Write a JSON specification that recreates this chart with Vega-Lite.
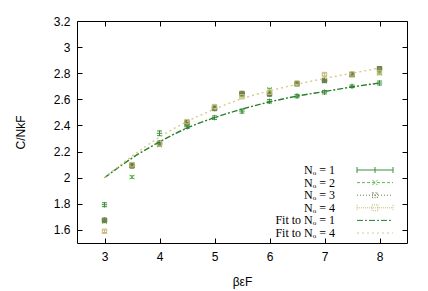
{
  "$schema": "https://vega.github.io/schema/vega-lite/v6.json",
  "autosize": "none",
  "width": 330,
  "height": 222,
  "padding": {"left": 77, "top": 21, "right": 21, "bottom": 48},
  "background": "white",
  "config": {
    "font": "Liberation Sans",
    "view": {"stroke": "black", "strokeWidth": 1},
    "axis": {"grid": false, "domain": false, "tickColor": "black", "labelColor": "black", "labelFont": "Liberation Sans", "labelFontSize": 12, "titleFont": "Liberation Sans", "titleFontSize": 12, "titleFontWeight": "normal", "titleColor": "black"},
    "legend": {"title": null, "orient": "none", "legendX": 292, "legendY": 143, "labelAlign": "right", "labelOffset": -46, "labelFont": "Liberation Serif", "labelFontSize": 12, "labelColor": "black", "labelLimit": 300, "symbolSize": 100, "symbolStrokeWidth": 1, "rowPadding": 0.6, "padding": 0}
  },
  "datasets": {
    "pts": [
      {"series": "Nₒ = 1", "x": 3, "y": 1.793, "lo": 1.778, "hi": 1.808},
      {"series": "Nₒ = 1", "x": 3.5, "y": 2.10, "lo": 2.085, "hi": 2.115},
      {"series": "Nₒ = 1", "x": 4, "y": 2.34, "lo": 2.322, "hi": 2.358},
      {"series": "Nₒ = 1", "x": 4.5, "y": 2.39, "lo": 2.377, "hi": 2.403},
      {"series": "Nₒ = 1", "x": 5, "y": 2.46, "lo": 2.447, "hi": 2.473},
      {"series": "Nₒ = 1", "x": 5.5, "y": 2.51, "lo": 2.495, "hi": 2.525},
      {"series": "Nₒ = 1", "x": 6, "y": 2.585, "lo": 2.572, "hi": 2.598},
      {"series": "Nₒ = 1", "x": 6.5, "y": 2.625, "lo": 2.612, "hi": 2.638},
      {"series": "Nₒ = 1", "x": 7, "y": 2.655, "lo": 2.642, "hi": 2.668},
      {"series": "Nₒ = 1", "x": 7.5, "y": 2.70, "lo": 2.690, "hi": 2.710},
      {"series": "Nₒ = 1", "x": 8, "y": 2.725, "lo": 2.710, "hi": 2.740},
      {"series": "Nₒ = 2", "x": 3, "y": 1.665, "lo": 1.655, "hi": 1.675},
      {"series": "Nₒ = 2", "x": 3.5, "y": 2.005, "lo": 1.995, "hi": 2.015},
      {"series": "Nₒ = 2", "x": 4, "y": 2.25, "lo": 2.24, "hi": 2.26},
      {"series": "Nₒ = 2", "x": 4.5, "y": 2.41, "lo": 2.40, "hi": 2.42},
      {"series": "Nₒ = 2", "x": 5, "y": 2.54, "lo": 2.53, "hi": 2.55},
      {"series": "Nₒ = 2", "x": 5.5, "y": 2.635, "lo": 2.625, "hi": 2.645},
      {"series": "Nₒ = 2", "x": 6, "y": 2.675, "lo": 2.665, "hi": 2.685},
      {"series": "Nₒ = 2", "x": 6.5, "y": 2.715, "lo": 2.705, "hi": 2.725},
      {"series": "Nₒ = 2", "x": 7, "y": 2.74, "lo": 2.73, "hi": 2.75},
      {"series": "Nₒ = 2", "x": 7.5, "y": 2.785, "lo": 2.775, "hi": 2.795},
      {"series": "Nₒ = 2", "x": 8, "y": 2.80, "lo": 2.79, "hi": 2.81},
      {"series": "Nₒ = 3", "x": 3, "y": 1.675, "lo": 1.665, "hi": 1.685},
      {"series": "Nₒ = 3", "x": 3.5, "y": 2.09, "lo": 2.08, "hi": 2.10},
      {"series": "Nₒ = 3", "x": 4, "y": 2.265, "lo": 2.255, "hi": 2.275},
      {"series": "Nₒ = 3", "x": 4.5, "y": 2.42, "lo": 2.41, "hi": 2.43},
      {"series": "Nₒ = 3", "x": 5, "y": 2.53, "lo": 2.52, "hi": 2.54},
      {"series": "Nₒ = 3", "x": 5.5, "y": 2.645, "lo": 2.635, "hi": 2.655},
      {"series": "Nₒ = 3", "x": 6, "y": 2.64, "lo": 2.63, "hi": 2.65},
      {"series": "Nₒ = 3", "x": 6.5, "y": 2.72, "lo": 2.71, "hi": 2.73},
      {"series": "Nₒ = 3", "x": 7, "y": 2.745, "lo": 2.735, "hi": 2.755},
      {"series": "Nₒ = 3", "x": 7.5, "y": 2.79, "lo": 2.78, "hi": 2.80},
      {"series": "Nₒ = 3", "x": 8, "y": 2.835, "lo": 2.825, "hi": 2.845},
      {"series": "Nₒ = 4", "x": 3, "y": 1.59, "lo": 1.58, "hi": 1.60},
      {"series": "Nₒ = 4", "x": 3.5, "y": 2.10, "lo": 2.09, "hi": 2.11},
      {"series": "Nₒ = 4", "x": 4, "y": 2.26, "lo": 2.25, "hi": 2.27},
      {"series": "Nₒ = 4", "x": 4.5, "y": 2.43, "lo": 2.42, "hi": 2.44},
      {"series": "Nₒ = 4", "x": 5, "y": 2.545, "lo": 2.535, "hi": 2.555},
      {"series": "Nₒ = 4", "x": 5.5, "y": 2.62, "lo": 2.61, "hi": 2.63},
      {"series": "Nₒ = 4", "x": 6, "y": 2.655, "lo": 2.645, "hi": 2.665},
      {"series": "Nₒ = 4", "x": 6.5, "y": 2.725, "lo": 2.715, "hi": 2.735},
      {"series": "Nₒ = 4", "x": 7, "y": 2.79, "lo": 2.78, "hi": 2.80},
      {"series": "Nₒ = 4", "x": 7.5, "y": 2.795, "lo": 2.785, "hi": 2.805},
      {"series": "Nₒ = 4", "x": 8, "y": 2.805, "lo": 2.795, "hi": 2.815}
    ],
    "fits": [
      {"series": "Fit to Nₒ = 1", "x": 3, "y": 2.0},
      {"series": "Fit to Nₒ = 1", "x": 3.5, "y": 2.15},
      {"series": "Fit to Nₒ = 1", "x": 4, "y": 2.275},
      {"series": "Fit to Nₒ = 1", "x": 4.5, "y": 2.38},
      {"series": "Fit to Nₒ = 1", "x": 5, "y": 2.46},
      {"series": "Fit to Nₒ = 1", "x": 5.5, "y": 2.525},
      {"series": "Fit to Nₒ = 1", "x": 6, "y": 2.58},
      {"series": "Fit to Nₒ = 1", "x": 6.5, "y": 2.625},
      {"series": "Fit to Nₒ = 1", "x": 7, "y": 2.66},
      {"series": "Fit to Nₒ = 1", "x": 7.5, "y": 2.695},
      {"series": "Fit to Nₒ = 1", "x": 8, "y": 2.725},
      {"series": "Fit to Nₒ = 4", "x": 3, "y": 2.0},
      {"series": "Fit to Nₒ = 4", "x": 3.5, "y": 2.165},
      {"series": "Fit to Nₒ = 4", "x": 4, "y": 2.31},
      {"series": "Fit to Nₒ = 4", "x": 4.5, "y": 2.43},
      {"series": "Fit to Nₒ = 4", "x": 5, "y": 2.525},
      {"series": "Fit to Nₒ = 4", "x": 5.5, "y": 2.605},
      {"series": "Fit to Nₒ = 4", "x": 6, "y": 2.665},
      {"series": "Fit to Nₒ = 4", "x": 6.5, "y": 2.715},
      {"series": "Fit to Nₒ = 4", "x": 7, "y": 2.76},
      {"series": "Fit to Nₒ = 4", "x": 7.5, "y": 2.80},
      {"series": "Fit to Nₒ = 4", "x": 8, "y": 2.84}
    ]
  },
  "resolve": {"scale": {"x": "independent", "y": "independent"}},
  "layer": [
    {
      "data": {"name": "pts"},
      "transform": [{"filter": "false"}],
      "mark": {"type": "point", "filled": false, "size": 100, "strokeWidth": 1, "opacity": 1},
      "encoding": {
        "x": {"field": "x", "type": "quantitative", "scale": {"domain": [2.5, 8.5]}, "axis": null},
        "y": {"field": "y", "type": "quantitative", "scale": {"domain": [1.5, 3.2]}, "axis": null},
        "color": {"field": "series", "type": "nominal", "scale": {"domain": ["Nₒ = 1", "Nₒ = 2", "Nₒ = 3", "Nₒ = 4", "Fit to Nₒ = 1", "Fit to Nₒ = 4"], "range": ["#3d8f3d", "#5cb84a", "#6a7d4a", "#c9bb7a", "#2a7f2a", "#d6c98a"]}},
        "shape": {"field": "series", "type": "nominal", "scale": {"domain": ["Nₒ = 1", "Nₒ = 2", "Nₒ = 3", "Nₒ = 4", "Fit to Nₒ = 1", "Fit to Nₒ = 4"], "range": ["M-3.6,0H3.6M0,-0.6V0.6M-3.6,-0.6V0.6M3.6,-0.6V0.6", "M-3.6,0H3.6M-0.5,-0.5L0.5,0.5M-0.5,0.5L0.5,-0.5", "M-3.6,0H3.6M-0.5,-0.5H0.5V0.5H-0.5ZM-0.5,-0.5L0.5,0.5M-0.5,0.5L0.5,-0.5", "M-3.6,0H3.6M-0.6,-0.6H0.6V0.6H-0.6ZM-3.6,-0.6V0.6M3.6,-0.6V0.6", "M-3.6,0H3.6", "M-3.6,0H3.6"]}},
        "strokeDash": {"field": "series", "type": "nominal", "scale": {"domain": ["Nₒ = 1", "Nₒ = 2", "Nₒ = 3", "Nₒ = 4", "Fit to Nₒ = 1", "Fit to Nₒ = 4"], "range": [[1, 0], [3, 2], [1, 2], [1, 1], [6, 2, 2, 2], [2, 3]]}}
      }
    },
    {
      "data": {"name": "pts"},
      "mark": {"type": "rule", "strokeWidth": 1},
      "encoding": {
        "x": {"field": "x", "type": "quantitative", "scale": {"domain": [2.5, 8.5]}, "axis": null},
        "y": {"field": "lo", "type": "quantitative", "scale": {"domain": [1.5, 3.2]}, "axis": null},
        "y2": {"field": "hi"},
        "color": {"field": "series", "type": "nominal"}
      }
    },
    {
      "data": {"name": "pts"},
      "mark": {"type": "rule", "strokeWidth": 1, "xOffset": -2.5, "x2Offset": 2.5},
      "encoding": {
        "x": {"field": "x", "type": "quantitative", "scale": {"domain": [2.5, 8.5]}, "axis": null},
        "x2": {"field": "x"},
        "y": {"field": "lo", "type": "quantitative", "scale": {"domain": [1.5, 3.2]}, "axis": null},
        "color": {"field": "series", "type": "nominal"}
      }
    },
    {
      "data": {"name": "pts"},
      "mark": {"type": "rule", "strokeWidth": 1, "xOffset": -2.5, "x2Offset": 2.5},
      "encoding": {
        "x": {"field": "x", "type": "quantitative", "scale": {"domain": [2.5, 8.5]}, "axis": null},
        "x2": {"field": "x"},
        "y": {"field": "hi", "type": "quantitative", "scale": {"domain": [1.5, 3.2]}, "axis": null},
        "color": {"field": "series", "type": "nominal"}
      }
    },
    {
      "data": {"name": "pts"},
      "transform": [{"filter": "datum.series === 'Nₒ = 1'"}],
      "mark": {"type": "point", "filled": false, "size": 30, "strokeWidth": 1, "opacity": 1, "shape": "M-1,0H1M0,-1V1"},
      "encoding": {
        "x": {"field": "x", "type": "quantitative", "scale": {"domain": [2.5, 8.5]}, "axis": {"orient": "bottom", "values": [3, 4, 5, 6, 7, 8], "format": "d", "tickSize": -5, "labelPadding": 13, "title": "βεF", "titlePadding": 14}},
        "y": {"field": "y", "type": "quantitative", "scale": {"domain": [1.5, 3.2]}, "axis": {"orient": "left", "values": [1.6, 1.8, 2, 2.2, 2.4, 2.6, 2.8, 3, 3.2], "format": "~g", "tickSize": -5, "labelPadding": 12, "title": "C/NkF", "titlePadding": 26}},
        "color": {"field": "series", "type": "nominal"}
      }
    },
    {
      "data": {"name": "pts"},
      "transform": [{"filter": "datum.series === 'Nₒ = 2'"}],
      "mark": {"type": "point", "filled": false, "size": 30, "strokeWidth": 1, "opacity": 1, "shape": "M-0.8,-0.8L0.8,0.8M-0.8,0.8L0.8,-0.8"},
      "encoding": {
        "x": {"field": "x", "type": "quantitative", "scale": {"domain": [2.5, 8.5]}, "axis": null},
        "y": {"field": "y", "type": "quantitative", "scale": {"domain": [1.5, 3.2]}, "axis": null},
        "color": {"field": "series", "type": "nominal"}
      }
    },
    {
      "data": {"name": "pts"},
      "transform": [{"filter": "datum.series === 'Nₒ = 3'"}],
      "mark": {"type": "point", "filled": false, "size": 30, "strokeWidth": 1, "opacity": 1, "shape": "M-0.8,-0.8H0.8V0.8H-0.8ZM-1,0H1M0,-1V1M-0.7,-0.7L0.7,0.7M-0.7,0.7L0.7,-0.7"},
      "encoding": {
        "x": {"field": "x", "type": "quantitative", "scale": {"domain": [2.5, 8.5]}, "axis": null},
        "y": {"field": "y", "type": "quantitative", "scale": {"domain": [1.5, 3.2]}, "axis": null},
        "color": {"field": "series", "type": "nominal"}
      }
    },
    {
      "data": {"name": "pts"},
      "transform": [{"filter": "datum.series === 'Nₒ = 4'"}],
      "mark": {"type": "point", "filled": false, "size": 30, "strokeWidth": 1, "opacity": 1, "shape": "M-0.8,-0.8H0.8V0.8H-0.8Z"},
      "encoding": {
        "x": {"field": "x", "type": "quantitative", "scale": {"domain": [2.5, 8.5]}, "axis": null},
        "y": {"field": "y", "type": "quantitative", "scale": {"domain": [1.5, 3.2]}, "axis": null},
        "color": {"field": "series", "type": "nominal"}
      }
    },
    {
      "data": {"name": "fits"},
      "mark": {"type": "line", "strokeWidth": 1.4, "interpolate": "monotone"},
      "encoding": {
        "x": {"field": "x", "type": "quantitative", "scale": {"domain": [2.5, 8.5]}, "axis": {"orient": "top", "values": [3, 4, 5, 6, 7, 8], "labels": false, "tickSize": -5, "title": null}},
        "y": {"field": "y", "type": "quantitative", "scale": {"domain": [1.5, 3.2]}, "axis": {"orient": "right", "values": [1.6, 1.8, 2, 2.2, 2.4, 2.6, 2.8, 3, 3.2], "labels": false, "tickSize": -5, "title": null}},
        "color": {"field": "series", "type": "nominal"},
        "strokeDash": {"field": "series", "type": "nominal"}
      }
    }
  ]
}
